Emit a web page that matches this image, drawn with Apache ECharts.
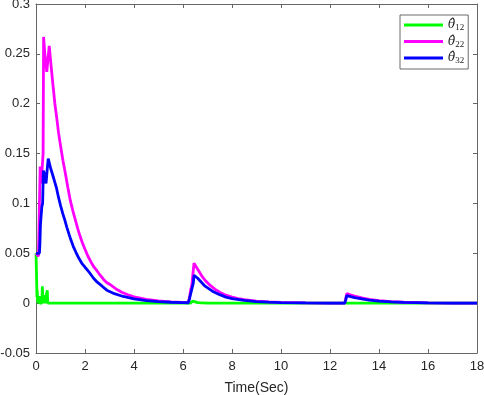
<!DOCTYPE html>
<html>
<head>
<meta charset="utf-8">
<script src="https://cdn.jsdelivr.net/npm/echarts@6/dist/echarts.min.js"></script>
<style>
    html, body { margin: 0; padding: 0; background: #fff; }
    #chart { width: 484px; height: 395px; }
</style>
</head>
<body>
<div id="chart"></div>
<script>
// 横轴刻度
var xTicks = [0, 2, 4, 6, 8, 10, 12, 14, 16, 18];
var seriesNames = ['θ12', 'θ22', 'θ32'];

// theta12 (green)
var t12 = [0, 0.02, 0.04, 0.05, 0.06, 0.08, 0.11, 0.13, 0.15, 0.24, 0.26, 0.28, 0.32, 0.34, 0.36, 0.44, 0.46, 0.48, 6.3, 6.4, 6.45, 6.6, 7.0, 12.62, 12.68, 12.9, 18];
var v12 = [0.05, 0.03, 0.006, 0.013, 0.004, 0, 0, 0.007, 0, 0, 0.017, 0, 0, 0.008, 0, 0, 0.013, 0, 0, 0.002, 0.0015, 0.0005, 0, 0, 0.0008, 0, 0];

// theta22 (magenta)
var t22 = [0, 0.1, 0.15, 0.17, 0.2, 0.25, 0.29, 0.31, 0.36, 0.44, 0.54, 0.62, 0.7, 0.77, 0.85, 0.92, 1.0, 1.1, 1.2, 1.3, 1.4, 1.5, 1.6, 1.7, 1.8, 1.9, 2.0, 2.12, 2.25, 2.37, 2.5, 2.62, 2.75, 2.87, 3.0, 3.25, 3.5, 3.75, 4.0, 4.5, 5.0, 5.5, 6.0, 6.2, 6.25, 6.28, 6.32, 6.36, 6.4, 6.45, 6.55, 6.7, 6.8, 6.9, 7.0, 7.1, 7.2, 7.3, 7.4, 7.5, 7.75, 8.0, 8.25, 8.5, 9.0, 9.5, 10, 11, 12, 12.6, 12.64, 12.68, 12.8, 13, 13.3, 13.6, 14, 14.5, 15, 16, 17, 18];
var v22 = [0.05, 0.047, 0.045, 0.137, 0.12, 0.135, 0.15, 0.267, 0.25, 0.232, 0.258, 0.237, 0.217, 0.2, 0.185, 0.171, 0.158, 0.143, 0.13, 0.116, 0.103, 0.093, 0.084, 0.075, 0.067, 0.06, 0.054, 0.047, 0.041, 0.036, 0.032, 0.028, 0.024, 0.021, 0.019, 0.0145, 0.011, 0.0084, 0.0064, 0.0037, 0.0022, 0.0013, 0.0008, 0.0008, 0.004, 0.008, 0.014, 0.018, 0.028, 0.04, 0.036, 0.03, 0.026, 0.023, 0.0205, 0.018, 0.016, 0.014, 0.0125, 0.011, 0.008, 0.006, 0.0046, 0.0035, 0.002, 0.0012, 0.0007, 0.0002, 0.0001, 0.0001, 0.004, 0.0095, 0.0085, 0.007, 0.0052, 0.0038, 0.0025, 0.0015, 0.0009, 0.0003, 0.0001, 0];

// theta32 (blue)
var t32 = [0, 0.08, 0.14, 0.16, 0.18, 0.2, 0.24, 0.27, 0.3, 0.36, 0.41, 0.46, 0.5, 0.6, 0.7, 0.77, 0.84, 0.92, 1.0, 1.09, 1.18, 1.26, 1.35, 1.43, 1.52, 1.63, 1.75, 1.87, 2.0, 2.1, 2.2, 2.35, 2.5, 2.7, 2.89, 3.2, 3.56, 4.0, 4.5, 5.0, 5.5, 6.0, 6.22, 6.26, 6.3, 6.34, 6.38, 6.42, 6.45, 6.6, 6.75, 6.9, 7.05, 7.2, 7.35, 7.5, 7.75, 8.0, 8.5, 9.0, 9.5, 10, 11, 12, 12.6, 12.64, 12.68, 12.8, 13, 13.3, 13.6, 14, 14.5, 15, 16, 17, 18];
var v32 = [0.05, 0.048, 0.05, 0.06, 0.078, 0.085, 0.097, 0.1, 0.133, 0.128, 0.12, 0.135, 0.145, 0.135, 0.127, 0.121, 0.115, 0.106, 0.098, 0.09, 0.083, 0.076, 0.069, 0.063, 0.057, 0.051, 0.045, 0.04, 0.036, 0.033, 0.03, 0.025, 0.021, 0.017, 0.013, 0.0095, 0.0067, 0.0042, 0.0025, 0.0015, 0.0009, 0.0005, 0.0004, 0.004, 0.008, 0.012, 0.016, 0.02, 0.028, 0.025, 0.021, 0.017, 0.0145, 0.012, 0.0102, 0.0085, 0.006, 0.0045, 0.0027, 0.0016, 0.001, 0.0006, 0.0002, 0.0001, 0.0001, 0.003, 0.0075, 0.0068, 0.0056, 0.0042, 0.003, 0.002, 0.0012, 0.0007, 0.0002, 0.0001, 0];

var colors = ['#00ff00', '#ff00ff', '#0000ff'];

function pairs(t, v) {
    var out = [];
    for (var i = 0; i < t.length; i++) {
        out.push([t[i], v[i]]);
    }
    return out;
}

function makeSeries(name, t, v, color) {
    return {
        name: name,
        type: 'line',
        data: pairs(t, v),
        symbol: 'none',
        smooth: false,
        animation: false,
        lineStyle: { color: color, width: 2.8 },
        itemStyle: { color: color }
    };
}

var axisColor = '#666';
var labelFont = { color: '#262626', fontSize: 13, fontFamily: 'Liberation Sans' };

var myChart = echarts.init(document.getElementById('chart'));
var option = {
    animation: false,
    grid: {
        left: 36,
        right: 7,
        top: 4,
        bottom: 42,
        containLabel: false,
        outerBoundsMode: 'none'
    },
    legend: {
        orient: 'vertical',
        left: 400,
        top: 15,
        padding: [2, 4, 3, 4],
        itemGap: 0.5,
        itemWidth: 39,
        itemHeight: 3,
        icon: 'rect',
        backgroundColor: '#fff',
        borderColor: '#444',
        borderWidth: 0.8,
        borderRadius: 0,
        data: seriesNames,
        formatter: function(name) {
            return '{t|θ\u0302}{s|' + name.slice(1) + '}';
        },
        textStyle: {
            lineHeight: 16,
            rich: {
                t: { fontFamily: 'DejaVu Serif', fontStyle: 'italic', fontSize: 12, color: '#222', lineHeight: 16 },
                s: { fontFamily: 'Liberation Serif', fontSize: 9, color: '#222', lineHeight: 16, padding: [6, 0, 0, 0] }
            }
        }
    },
    xAxis: [{
        type: 'value',
        min: xTicks[0],
        max: xTicks[xTicks.length - 1],
        interval: 2,
        name: 'Time(Sec)',
        nameLocation: 'middle',
        nameGap: 28,
        nameTextStyle: { color: '#262626', fontSize: 14, fontFamily: 'Liberation Sans' },
        axisLine: { show: true, onZero: false, lineStyle: { color: axisColor, width: 1 } },
        axisTick: { show: true, inside: true, length: 4, lineStyle: { color: axisColor } },
        axisLabel: Object.assign({ margin: 7 }, labelFont),
        splitLine: { show: false }
    }, {
        type: 'value',
        position: 'top',
        min: xTicks[0],
        max: xTicks[xTicks.length - 1],
        interval: 2,
        axisLine: { show: true, onZero: false, lineStyle: { color: axisColor, width: 1 } },
        axisTick: { show: true, inside: true, length: 4, lineStyle: { color: axisColor } },
        axisLabel: { show: false },
        splitLine: { show: false }
    }],
    yAxis: [{
        type: 'value',
        min: -0.05,
        max: 0.3,
        interval: 0.05,
        axisLine: { show: true, onZero: false, lineStyle: { color: axisColor, width: 1 } },
        axisTick: { show: true, inside: true, length: 4, lineStyle: { color: axisColor } },
        axisLabel: Object.assign({
            margin: 6,
            formatter: function(v) {
                return parseFloat(v.toFixed(2)).toString();
            }
        }, labelFont),
        splitLine: { show: false }
    }, {
        type: 'value',
        position: 'right',
        min: -0.05,
        max: 0.3,
        interval: 0.05,
        axisLine: { show: true, onZero: false, lineStyle: { color: axisColor, width: 1 } },
        axisTick: { show: true, inside: true, length: 4, lineStyle: { color: axisColor } },
        axisLabel: { show: false },
        splitLine: { show: false }
    }],
    series: [
        makeSeries(seriesNames[0], t12, v12, colors[0]),
        makeSeries(seriesNames[1], t22, v22, colors[1]),
        makeSeries(seriesNames[2], t32, v32, colors[2])
    ]
};

myChart.setOption(option);
</script>
</body>
</html>
